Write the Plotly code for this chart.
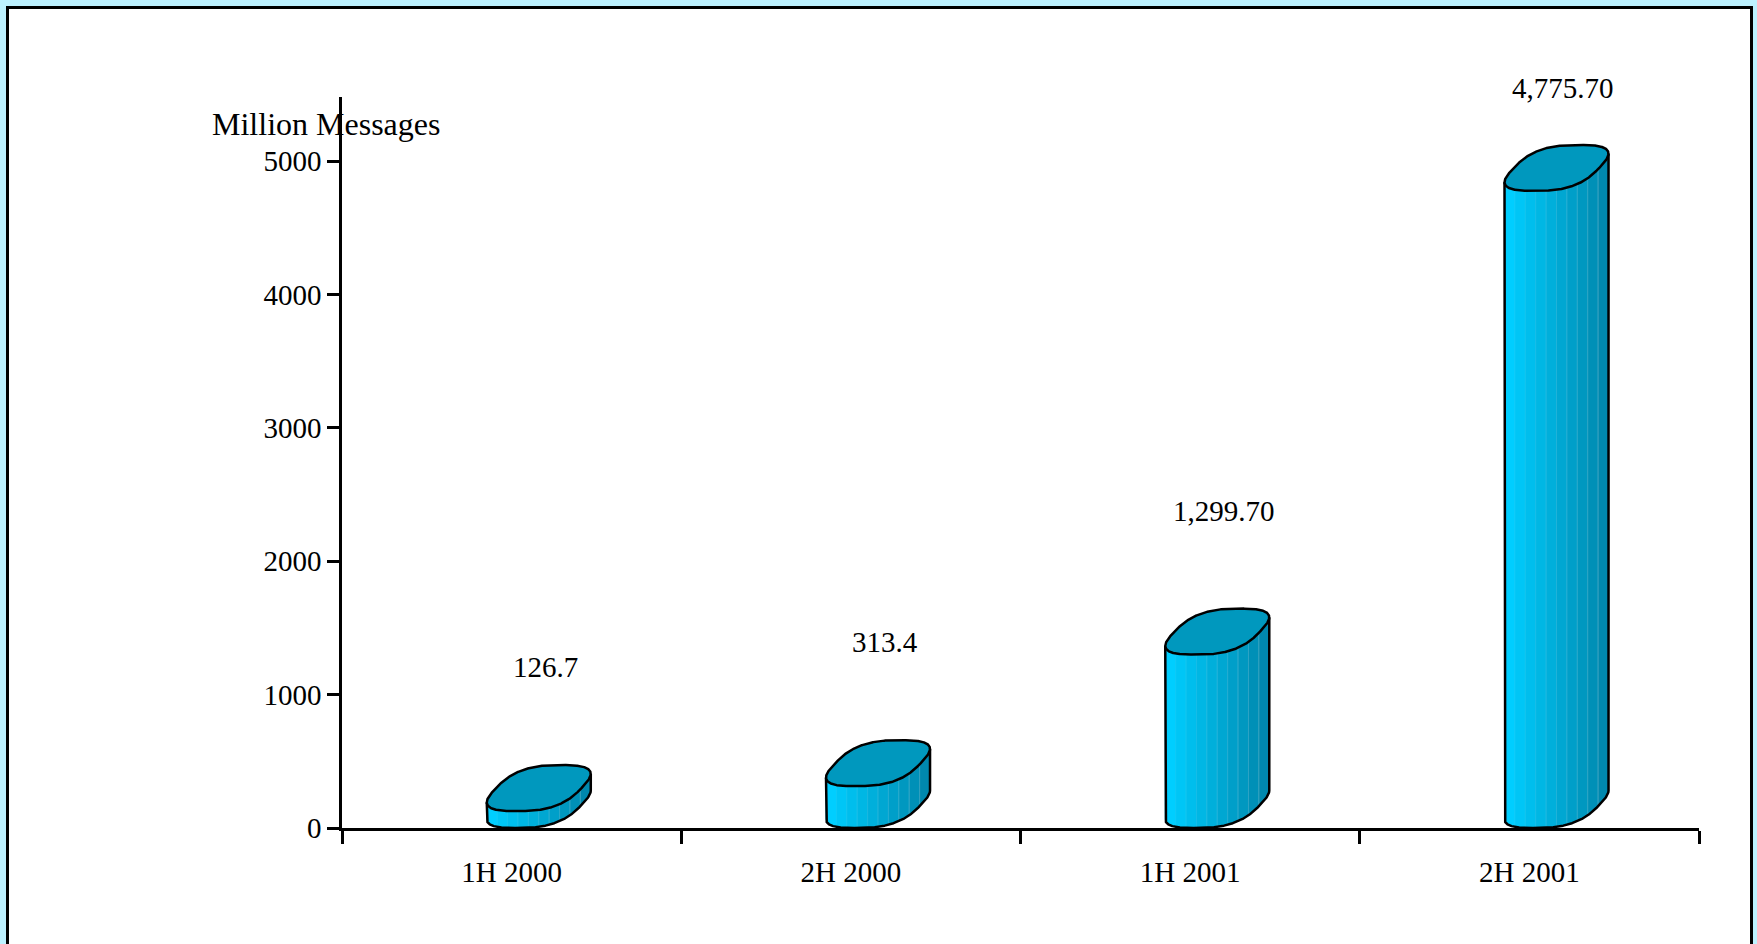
import numpy as np
import plotly.graph_objects as go

# Half-year message volume
categories = ["1H 2000", "2H 2000", "1H 2001", "2H 2001"]
messages = [126.7, 313.4, 1299.7, 4775.7]
value_labels = ["126.7", "313.4", "1,299.70", "4,775.70"]
y_ticks = [0, 1000, 2000, 3000, 4000, 5000]
y_title = "Million Messages"

# Canvas and plot-area geometry (pixels)
W, H = 1757, 944
M_L, M_R, M_T, M_B = 342, 58, 97, 116
Y_MAX = 5480

# Column footprint: a rounded (superellipse) base seen in oblique projection.
# Horizontal sizes are in category units, vertical depth in value units.
HALF_W = 0.126
SHIFT_U = 0.015
DEPTH_X = 0.130
DEPTH_Y = 345.0
ROUND_N = 2.8
N_STRIPS = 10
LABEL_GAP = 1080
LABEL_DX = 0.10

FRONT_RGB = (0, 206, 255)
BACK_RGB = (0, 136, 174)
TOP_COLOR = "#0098BE"
OUTLINE = "#000000"
SERIF = "Liberation Serif, Times New Roman, serif"


def footprint(t):
    c, s = np.cos(t), np.sin(t)
    e = 2.0 / ROUND_N
    cu = np.sign(c) * np.abs(c) ** e
    sv = np.sign(s) * np.abs(s) ** e
    dv = 0.5 + 0.5 * sv
    return SHIFT_U + HALF_W * cu + DEPTH_X * dv, DEPTH_Y * dv


# Full outline of the base, used for the top face
t_all = np.linspace(0, 2 * np.pi, 721)
ring_x, ring_y = footprint(t_all)

# Visible front half: from the leftmost to the rightmost silhouette point
t_left = t_all[np.argmin(ring_x)]
t_right = t_all[np.argmax(ring_x)]
if t_right < t_left:
    t_right += 2 * np.pi
t_front = np.linspace(t_left, t_right, 600)
front_x, front_y = footprint(t_front)
front_x = np.maximum.accumulate(front_x)


def mix(a, b, f):
    r, g, bl = (int(round(a[j] + (b[j] - a[j]) * f)) for j in range(3))
    return f"rgb({r},{g},{bl})"


def lighten(a, b, f, amt):
    r, g, bl = (a[j] + (b[j] - a[j]) * f for j in range(3))
    r, g, bl = (int(round(c + (255 - c) * amt)) for c in (r, g, bl))
    return f"rgb({r},{g},{bl})"


fig = go.Figure()

edges = np.linspace(front_x[0], front_x[-1], N_STRIPS + 1)
for i, v in enumerate(messages):
    # shaded side strips
    for k in range(N_STRIPS):
        f = k / (N_STRIPS - 1)
        xs = np.linspace(edges[k], edges[k + 1], 16)
        ys = np.interp(xs, front_x, front_y)
        px = np.concatenate([xs, xs[::-1], xs[:1]]) + i
        py = np.concatenate([ys, ys[::-1] + v, ys[:1]])
        sep = 0.04 + 0.16 * f
        fig.add_trace(go.Scatter(
            x=px, y=py, mode="lines", fill="toself",
            fillcolor=mix(FRONT_RGB, BACK_RGB, f),
            line=dict(color=lighten(FRONT_RGB, BACK_RGB, f, sep), width=1),
            hoverinfo="skip", showlegend=False,
        ))
    # silhouette of the body
    ox = np.concatenate([[front_x[0]], front_x, [front_x[-1]]]) + i
    oy = np.concatenate([[v + front_y[0]], front_y, [v + front_y[-1]]])
    fig.add_trace(go.Scatter(
        x=ox, y=oy, mode="lines", line=dict(color=OUTLINE, width=2.5),
        hoverinfo="skip", showlegend=False,
    ))
    # top face
    fig.add_trace(go.Scatter(
        x=ring_x + i, y=ring_y + v, mode="lines", fill="toself",
        fillcolor=TOP_COLOR, line=dict(color=OUTLINE, width=2.5),
        hoverinfo="skip", showlegend=False,
    ))


def paper_x(px):
    return (px - M_L) / (W - M_L - M_R)


def paper_y(py):
    return (H - M_B - py) / (H - M_T - M_B)


annotations = []
for i, (v, txt) in enumerate(zip(messages, value_labels)):
    label = dict(
        x=i + LABEL_DX, xref="x", text=txt, showarrow=False,
        xanchor="center", yanchor="middle",
        font=dict(family=SERIF, size=29, color="black"),
    )
    if v + LABEL_GAP < Y_MAX:
        label.update(y=v + LABEL_GAP, yref="y")
    else:
        # tall columns get their label pinned just above the value axis
        label.update(y=1, yref="paper", yshift=9)
    annotations.append(label)
annotations.append(dict(
    x=-0.5, y=1, xref="x", yref="paper", xshift=-132, yshift=-27,
    text=y_title, showarrow=False, xanchor="left", yanchor="middle",
    font=dict(family=SERIF, size=32, color="black"),
))

fig.update_layout(
    width=W, height=H,
    margin=dict(l=M_L, r=M_R, t=M_T, b=M_B, pad=0),
    paper_bgcolor="#BDF2FF",
    plot_bgcolor="rgba(0,0,0,0)",
    showlegend=False,
    annotations=annotations,
    shapes=[dict(
        type="rect", xref="paper", yref="paper", layer="below",
        x0=paper_x(7.5), x1=paper_x(1751.5), y0=paper_y(990), y1=paper_y(7.5),
        fillcolor="white", line=dict(color="black", width=3),
    )],
    xaxis=dict(
        range=[-0.5, len(categories) - 0.5],
        tickvals=list(range(len(categories))), ticktext=categories,
        ticks="outside", ticklen=13, tickcolor="rgba(0,0,0,0)",
        ticklabelstandoff=3,
        minor=dict(
            tickvals=[k - 0.5 for k in range(len(categories) + 1)],
            ticks="outside", ticklen=13, tickwidth=2.5, tickcolor="black",
            showgrid=False,
        ),
        showline=True, linecolor="black", linewidth=2.5,
        showgrid=False, zeroline=False, automargin=False, fixedrange=True,
        tickfont=dict(family=SERIF, size=29, color="black"),
    ),
    yaxis=dict(
        range=[0, Y_MAX], tickvals=y_ticks,
        ticks="outside", ticklen=12, tickwidth=2.5, tickcolor="black",
        showline=True, linecolor="black", linewidth=2.5,
        showgrid=False, zeroline=False, automargin=False, fixedrange=True,
        tickfont=dict(family=SERIF, size=29, color="black"),
    ),
)

fig.write_html("out.html")
